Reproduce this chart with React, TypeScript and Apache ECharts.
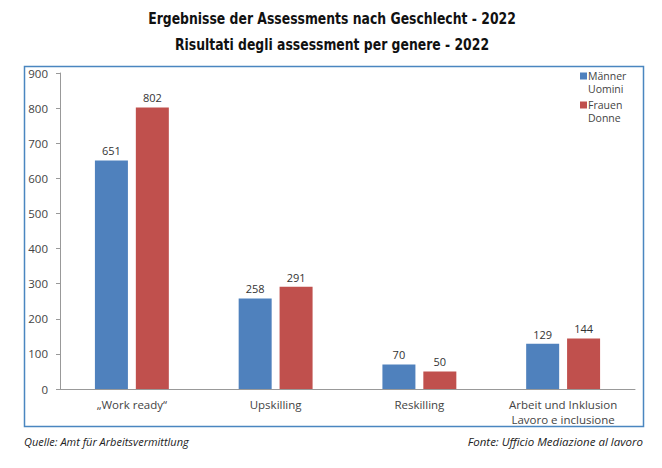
import React, { useEffect, useRef } from "react";
import * as echarts from "echarts";

const titleLines = ["Ergebnisse der Assessments nach Geschlecht - 2022", "Risultati degli assessment per genere - 2022"];
const categories = ["„Work ready“", "Upskilling", "Reskilling", "Arbeit und Inklusion\nLavoro e inclusione"];
const seriesNames = ["Männer / Uomini", "Frauen / Donne"];
const legendLines = [["Männer", "Uomini"], ["Frauen", "Donne"]];
const seriesColors = ["#4F81BD", "#C0504D"];
const maleValues = [651, 258, 70, 129];
const femaleValues = [802, 291, 50, 144];
const sourceLeft = "Quelle: Amt für Arbeitsvermittlung";
const sourceRight = "Fonte: Ufficio Mediazione al lavoro";

const FONT = "'Open Sans', 'Noto Sans', sans-serif";
const TITLE_FONT = "'DejaVu Sans Condensed', 'DejaVu Sans', sans-serif";

export default function App() {
  const ref = useRef<HTMLDivElement>(null);
  useEffect(() => {
    if (!ref.current) return;
    const chart = echarts.init(ref.current, null, { renderer: "svg" });
    const labelStyle = { show: true, position: "top", color: "#333", fontSize: 11, fontFamily: FONT, distance: 4 };
    const legendGraphics: any[] = [];
    legendLines.forEach((lines, i) => {
      const y0 = 72.5 + i * 29;
      legendGraphics.push({ type: "rect", shape: { x: 580, y: y0, width: 7, height: 7 }, style: { fill: seriesColors[i] } });
      lines.forEach((t, j) => {
        legendGraphics.push({
          type: "text",
          x: 588,
          y: y0 + 3.5 + j * 13,
          style: { text: t, fontFamily: FONT, fontSize: 10.5, fill: "#444", textVerticalAlign: "middle" },
        });
      });
    });
    chart.setOption({
      animation: false,
      backgroundColor: "#fff",
      grid: { left: 60, right: 27, top: 73, bottom: 79, containLabel: false },
      xAxis: {
        type: "category",
        data: categories,
        axisLine: { lineStyle: { color: "#999" } },
        axisTick: { show: false },
        axisLabel: { color: "#444", fontFamily: FONT, fontSize: 11.5, lineHeight: 15, margin: 8 },
      },
      yAxis: {
        type: "value",
        min: 0,
        max: 900,
        interval: 100,
        splitLine: { show: false },
        axisLine: { show: true, lineStyle: { color: "#999" } },
        axisTick: { show: true, length: 4, lineStyle: { color: "#999" } },
        axisLabel: { color: "#444", fontFamily: FONT, fontSize: 11.5, margin: 12 },
      },
      series: [
        { name: seriesNames[0], type: "bar", data: maleValues, itemStyle: { color: seriesColors[0] }, barWidth: 33, barGap: "24%", label: labelStyle },
        { name: seriesNames[1], type: "bar", data: femaleValues, itemStyle: { color: seriesColors[1] }, barWidth: 33, label: labelStyle },
      ],
      graphic: [
        { type: "rect", shape: { x: 24.5, y: 66.5, width: 619, height: 360 }, style: { fill: "none", stroke: "#4A86C0", lineWidth: 1.5 }, z: -1 },
        {
          type: "text", x: 332, y: 19, scaleX: 0.92,
          style: { text: titleLines[0], fontFamily: TITLE_FONT, fontSize: 15, fontWeight: "bold", fill: "#111", textAlign: "center", textVerticalAlign: "middle" },
        },
        {
          type: "text", x: 332, y: 45, scaleX: 0.92,
          style: { text: titleLines[1], fontFamily: TITLE_FONT, fontSize: 15, fontWeight: "bold", fill: "#111", textAlign: "center", textVerticalAlign: "middle" },
        },
        ...legendGraphics,
        { type: "text", x: 24, y: 441, style: { text: sourceLeft, fontFamily: FONT, fontStyle: "italic", fontSize: 11, fill: "#222", textVerticalAlign: "middle" } },
        { type: "text", x: 643, y: 441, style: { text: sourceRight, fontFamily: FONT, fontStyle: "italic", fontSize: 11.5, fill: "#222", textAlign: "right", textVerticalAlign: "middle" } },
      ],
    });
    return () => chart.dispose();
  }, []);
  return <div ref={ref} style={{ position: "fixed", left: 0, top: 0, width: 662, height: 468 }} />;
}
